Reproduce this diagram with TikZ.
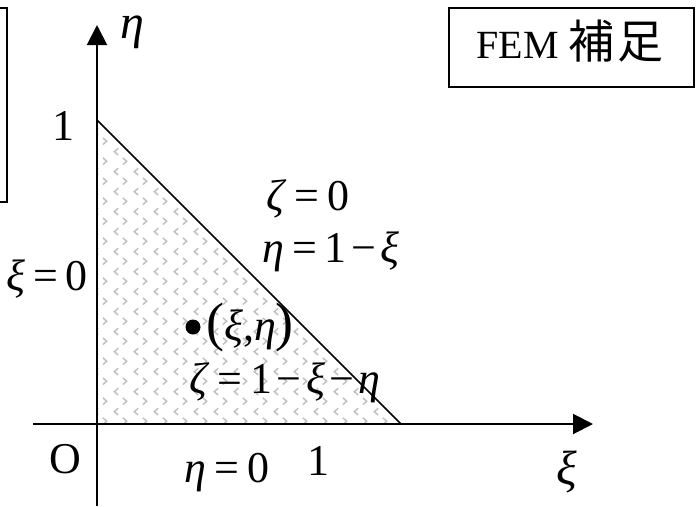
\documentclass[tikz,border=0pt]{standalone}
\usepackage{fontspec}
\setmainfont{Liberation Serif}
\newfontfamily\jpfont{Noto Sans CJK JP}
\usetikzlibrary{arrows.meta,patterns}
\pgfdeclarepatternformonly{chevs}{\pgfqpoint{0pt}{0pt}}{\pgfqpoint{20pt}{20pt}}{\pgfqpoint{20pt}{20pt}}{%
  \pgfsetlinewidth{1.5pt}%
  \pgfpathmoveto{\pgfqpoint{3pt}{8.5pt}}\pgfpathlineto{\pgfqpoint{7pt}{5pt}}\pgfpathlineto{\pgfqpoint{3pt}{1.5pt}}%
  \pgfpathmoveto{\pgfqpoint{19pt}{18.5pt}}\pgfpathlineto{\pgfqpoint{15pt}{15pt}}\pgfpathlineto{\pgfqpoint{19pt}{11.5pt}}%
  \pgfusepath{stroke}}
\newcommand{\myeq}{\kern.18em=\kern.18em}
\newcommand{\mymi}{\kern.1em−\kern.1em}
\newcommand{\gk}[1]{\textit{#1}}
\begin{document}
\begin{tikzpicture}[x=1pt,y=-1pt,
  lbl/.style={font=\fontsize{44}{52}\selectfont, inner sep=0pt},
  axis/.style={line width=2pt, -{Triangle[length=20pt,width=20pt]}},
  frame/.style={line width=1.5pt}]
\useasboundingbox (0,0) rectangle (696,506);
\clip (0,0) rectangle (696,506);
\coordinate (O) at (97,424);
\coordinate (ybot) at (97,506);
\coordinate (ytop) at (97,25);
\coordinate (xl) at (33,424);
\coordinate (xr) at (593,424);
\coordinate (A) at (97,120);
\coordinate (B) at (401,424);
\fill[pattern=chevs, pattern color=gray!50] (O) -- (A) -- (B) -- cycle;
\draw[line width=1.5pt] (A) -- (B);
\draw[axis] (ybot) -- (ytop);
\draw[axis] (xl) -- (xr);
% partial box at left edge
\draw[frame] (-20,8) rectangle (7,202);
% FEM box
\node[draw, frame, minimum width=245pt, minimum height=79pt, inner sep=0pt] (fembox) at (571.5,47.5) {};
\node[lbl, font=\fontsize{40}{46}\selectfont, anchor=base] (femtxt) at (570,58) {FEM {\jpfont\fontsize{46}{50}\selectfont 補\kern3pt 足}};
% labels
\node[lbl, font=\fontsize{48}{52}\selectfont] (etalbl) at (132,32) {\gk{η}};
\node[lbl, font=\fontsize{48}{52}\selectfont] (xilbl) at (567,472) {\gk{ξ}};
\node[lbl, anchor=base] (oneY) at (63,140) {1};
\node[lbl, anchor=base] (oneX) at (318,475) {1};
\node[lbl, anchor=base] (Olbl) at (65,473) {O};
\node[lbl, anchor=base] (xi0) at (47,290) {\gk{ξ}\myeq 0};
\node[lbl, anchor=base] (eta0) at (227,482) {\gk{η}\myeq 0};
\node[lbl, anchor=base] (zeta0) at (308,210) {\gk{ζ}\myeq 0};
\node[lbl, anchor=base] (etaline) at (331,262) {\gk{η}\myeq 1\mymi\gk{ξ}};
\node[lbl, anchor=base] (zetadef) at (285,393) {\gk{ζ}\myeq 1\mymi\gk{ξ}\mymi\gk{η}};
\node[circle, fill=black, inner sep=0pt, minimum size=15pt] (dot) at (193,327) {};
\node[lbl] (ptlbl) at (250,328) {{\fontsize{54}{54}\selectfont(}\gk{ξ},\gk{η}{\fontsize{54}{54}\selectfont)}};
\end{tikzpicture}
\end{document}
